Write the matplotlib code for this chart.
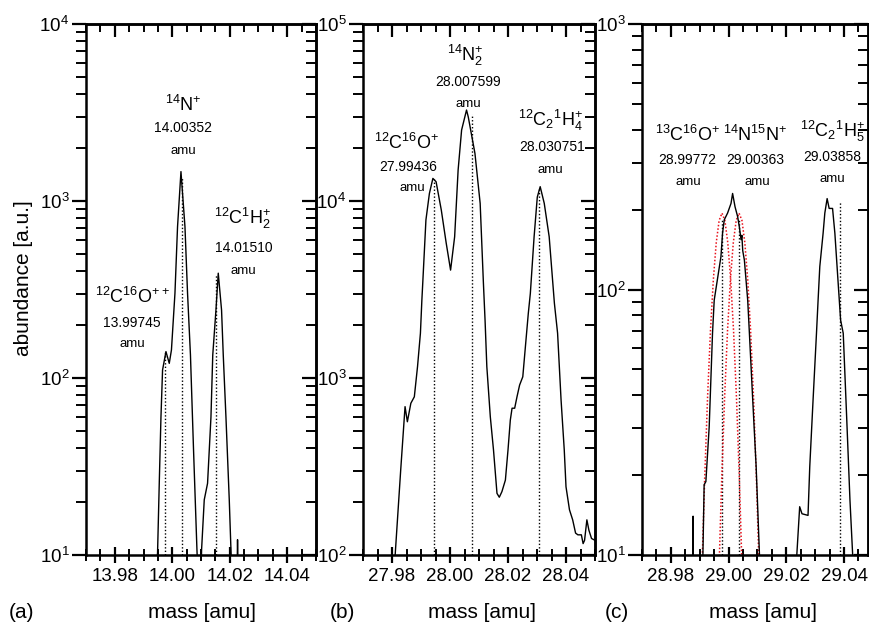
import matplotlib
matplotlib.use('Agg')
import matplotlib.pyplot as plt
from matplotlib.ticker import MultipleLocator, FormatStrFormatter, LogLocator, NullFormatter

plt.rcParams['font.family'] = ['Liberation Sans', 'DejaVu Sans']
plt.rcParams['mathtext.fontset'] = 'custom'
plt.rcParams['mathtext.rm'] = 'Liberation Sans'
plt.rcParams['mathtext.it'] = 'Liberation Sans:italic'
plt.rcParams['mathtext.bf'] = 'Liberation Sans:bold'
plt.rcParams['mathtext.default'] = 'regular'

# ---------------- data ----------------
mass_a = [13.99440, 13.99489, 13.99548, 13.99607, 13.99663, 13.99781, 13.99896, 13.99972,
          14.00094, 14.00184, 14.00303, 14.00442, 14.00532, 14.00633, 14.00741, 14.00859,
          14.00890, 14.01005, 14.01020, 14.01113, 14.01228, 14.01346, 14.01409, 14.01520,
          14.01600, 14.01715, 14.01774, 14.01868, 14.01983, 14.02042, 14.02070, 14.02255,
          14.02271, 14.02290, 14.05000]
abund_a = [8, 10.3, 25.4, 60, 111, 141, 121, 144,
           301, 716, 1466, 716, 301, 135, 39, 10.7,
           8, 8, 10.7, 20.5, 25.4, 60, 135, 242,
           391, 242, 135, 60, 20.5, 10.7, 8, 8,
           12.2, 8, 8]

mass_b = [27.9800, 27.9810, 27.9830, 27.9845, 27.9853, 27.9865, 27.9877, 27.9888, 27.9898,
          27.9903, 27.9906, 27.9917, 27.9929, 27.9941, 27.9952, 27.9970, 27.9987, 28.0002,
          28.0016, 28.0028, 28.0040, 28.0057, 28.0063, 28.0086, 28.0104, 28.0115, 28.0121,
          28.0127, 28.0139, 28.0150, 28.0162, 28.0170, 28.0179, 28.0191, 28.0200, 28.0208,
          28.0214, 28.0223, 28.0231, 28.0240, 28.0251, 28.0261, 28.0270, 28.0277, 28.0290,
          28.0301, 28.0311, 28.0325, 28.0342, 28.0360, 28.0371, 28.0383, 28.0394, 28.0400,
          28.0412, 28.0423, 28.0433, 28.0441, 28.0453, 28.0459, 28.0464, 28.0472, 28.0479,
          28.0488, 28.0500]
abund_b = [80, 95, 302, 689, 566, 720, 783, 1159, 1791,
           2755, 3428, 7815, 11040, 13420, 12850, 8890, 5770, 4070,
           6280, 14960, 25170, 32660, 29850, 18580, 9700, 3500, 2100,
           1159, 604, 392, 223, 212, 228, 265, 392, 579,
           675, 675, 783, 912, 1016, 1570, 2317, 3000, 6280,
           10520, 12050, 9700, 6280, 2643, 1791, 751, 392, 243,
           180, 158, 133, 130, 130, 116, 121, 158, 138,
           124, 121]

mass_c = [28.9700, 28.98760, 28.98770, 28.98780, 28.99094, 28.99153, 28.99213, 28.99328,
          28.99443, 28.99502, 28.99735, 28.99791, 28.99850, 28.99965, 29.00084, 29.00139,
          29.00223, 29.00314, 29.00373, 29.00432, 29.00460, 29.00490, 29.00547, 29.00662,
          29.00721, 29.00836, 29.00955, 29.01070, 29.01090, 29.02310, 29.02463, 29.02543,
          29.02752, 29.02812, 29.02927, 29.03045, 29.03101, 29.03160, 29.03275, 29.03334,
          29.03414, 29.03484, 29.03602, 29.03682, 29.03798, 29.03881, 29.03972, 29.04090,
          29.04205, 29.04299, 29.04320, 29.05000]
abund_c = [8, 8, 14.0, 8, 8, 18.4, 18.9, 30.4,
           68.4, 91.2, 133, 163, 183, 194, 211, 230,
           205, 188, 172, 154, 160, 140, 129, 91.2,
           68.4, 38.4, 21.5, 10, 8, 8, 15.2, 14.3,
           14.1, 21.5, 38.4, 68.4, 91.2, 122, 163, 194,
           220, 202, 202, 163, 105, 76.7, 68.4, 33.2,
           16.1, 10, 8, 8]

# fitted component peaks in panel (c) (red dotted)
fit1_mass = [28.99072, 28.99172, 28.99272, 28.99372, 28.99472, 28.99572, 28.99672, 28.99772,
             28.99872, 28.99972, 29.00072, 29.00172, 29.00272, 29.00372, 29.00472]
fit1_abund = [8.5, 19.5, 39.4, 70, 109, 150, 182, 194, 182, 150, 109, 70, 39.4, 19.5, 8.5]
fit2_mass = [28.99663, 28.99763, 28.99863, 28.99963, 29.00063, 29.00163, 29.00263, 29.00363,
             29.00463, 29.00563, 29.00663, 29.00763, 29.00863, 29.00963, 29.01063]
fit2_abund = [8.5, 19.5, 39.4, 70, 109, 150, 182, 194, 182, 150, 109, 70, 39.4, 19.5, 8.5]

# reference peak positions (dotted lines) and their heights
peaks_a = [13.99745, 14.00352, 14.01510]
peakh_a = [141, 1350, 380]
peaks_b = [27.99436, 28.007599, 28.030751]
peakh_b = [13400, 31000, 12000]
peaks_c = [28.99772, 29.00363, 29.03858]
peakh_c = [185, 185, 215]

ions_a = [r'$^{12}$C$^{16}$O$^{++}$', r'$^{14}$N$^{+}$', r'$^{12}$C$^{1}$H$_{2}^{+}$']
ions_b = [r'$^{12}$C$^{16}$O$^{+}$', r'$^{14}$N$_{2}^{+}$', r'$^{12}$C$_{2}{}^{1}$H$_{4}^{+}$']
ions_c = [r'$^{13}$C$^{16}$O$^{+}$', r'$^{14}$N$^{15}$N$^{+}$', r'$^{12}$C$_{2}{}^{1}$H$_{5}^{+}$']
masstxt_a = ['13.99745', '14.00352', '14.01510']
masstxt_b = ['27.99436', '28.007599', '28.030751']
masstxt_c = ['28.99772', '29.00363', '29.03858']

xlims = [(13.97, 14.05), (27.97, 28.05), (28.97, 29.0483)]
ylims = [(10, 1e4), (100, 1e5), (10, 1e3)]
panel_letters = ['(a)', '(b)', '(c)']

# ---------------- layout (pixels) ----------------
W, H = 869, 623
fig = plt.figure(figsize=(W / 100, H / 100), dpi=100)

def fx(x):
    return x / W

def fy(y):
    return 1 - y / H

ax_px = [(86, 316), (363, 595), (642, 868)]
top_px, bot_px = 24, 555

# label positions (ion, number, amu) per peak
lab_pos = [
    [((132, 297), (132, 323), (132, 344)),
     ((183, 105), (183, 128), (183, 151)),
     ((243, 218), (244, 248), (243, 271))],
    [((407, 143), (408, 167), (412, 188)),
     ((465, 55), (468, 82), (468, 104)),
     ((550, 120), (552, 147), (550, 170))],
    [((688, 135), (687, 160), (688, 182)),
     ((755, 135), (755, 160), (757, 182)),
     ((832, 131), (832, 157), (832, 179))],
]
xlabel_pos = [202, 482, 763]
letter_pos = [22, 342, 617]

masses = [mass_a, mass_b, mass_c]
abunds = [abund_a, abund_b, abund_c]
peaks = [peaks_a, peaks_b, peaks_c]
peakh = [peakh_a, peakh_b, peakh_c]
ions = [ions_a, ions_b, ions_c]
mtxt = [masstxt_a, masstxt_b, masstxt_c]

SPW = 1.8
for i in range(3):
    l, r = ax_px[i]
    ax = fig.add_axes([fx(l), fy(bot_px), (r - l) / W, (bot_px - top_px) / H])
    ax.set_yscale('log')
    ax.set_xlim(*xlims[i])
    ax.set_ylim(*ylims[i])
    ax.plot(masses[i], abunds[i], color='black', lw=1.0, zorder=3)
    ax.vlines(peaks[i], ylims[i][0], peakh[i], colors='black', linestyles=(0, (1, 1.5)), lw=1.0, zorder=2)
    if i == 2:
        ax.plot(fit1_mass, fit1_abund, color='#e8101a', lw=1.1, ls=(0, (1, 1.3)), zorder=2)
        ax.plot(fit2_mass, fit2_abund, color='#e8101a', lw=1.1, ls=(0, (1, 1.3)), zorder=2)
    for s in ax.spines.values():
        s.set_linewidth(SPW)
    ax.xaxis.set_major_locator(MultipleLocator(0.02))
    ax.xaxis.set_minor_locator(MultipleLocator(0.005))
    ax.xaxis.set_major_formatter(FormatStrFormatter('%.2f'))
    ax.yaxis.set_major_locator(LogLocator(base=10))
    ax.yaxis.set_minor_locator(LogLocator(base=10, subs=range(2, 10)))
    ax.yaxis.set_minor_formatter(NullFormatter())
    ax.tick_params(axis='x', which='major', direction='inout', length=11, width=1.6,
                   labelsize=13.5, pad=4)
    ax.tick_params(axis='x', which='minor', direction='inout', length=8, width=1.4)
    ax.tick_params(axis='y', which='major', direction='out', length=10, width=1.6,
                   labelsize=13.5, pad=2)
    ax.tick_params(axis='y', which='minor', direction='out', length=7, width=1.4)

    sx = ax.secondary_xaxis('top')
    sx.xaxis.set_major_locator(MultipleLocator(0.02))
    sx.xaxis.set_minor_locator(MultipleLocator(0.005))
    sx.tick_params(axis='x', which='major', direction='in', length=9, width=1.6, labeltop=False)
    sx.tick_params(axis='x', which='minor', direction='in', length=6, width=1.4)
    sx.spines['top'].set_linewidth(SPW)

    sy = ax.secondary_yaxis('right')
    sy.tick_params(axis='y', which='major', direction='in', length=10, width=1.6, labelright=False)
    sy.tick_params(axis='y', which='minor', direction='in', length=7, width=1.4)
    sy.yaxis.set_minor_formatter(NullFormatter())
    sy.spines['right'].set_linewidth(SPW)

    for j in range(3):
        (ix, iy), (nx, ny), (amx, amy) = lab_pos[i][j]
        fig.text(fx(ix), fy(iy), ions[i][j], ha='center', va='center', fontsize=13)
        fig.text(fx(nx), fy(ny), mtxt[i][j], ha='center', va='center', fontsize=10)
        fig.text(fx(amx), fy(amy), 'amu', ha='center', va='center', fontsize=9.5)

    fig.text(fx(xlabel_pos[i]), fy(613), 'mass [amu]', ha='center', va='center', fontsize=15)
    fig.text(fx(letter_pos[i]), fy(613), panel_letters[i], ha='center', va='center', fontsize=15)

fig.text(fx(24), fy(278), 'abundance [a.u.]', rotation=90, ha='center', va='center', fontsize=15)

fig.savefig('out.png', dpi=100)
